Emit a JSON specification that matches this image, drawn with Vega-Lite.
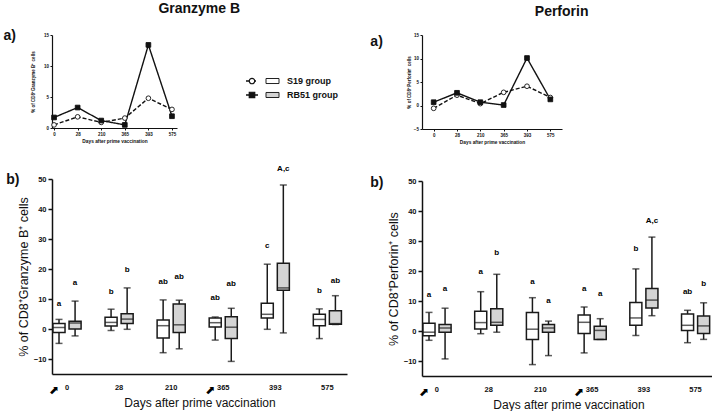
{
  "$schema": "https://vega.github.io/schema/vega-lite/v6.json",
  "padding": {"left": 3, "top": 2, "right": 0, "bottom": 0},
  "config": {
    "font": "Liberation Sans",
    "view": {"stroke": null},
    "axis": {"domainColor": "#111", "tickColor": "#111", "labelColor": "#111", "titleColor": "#111", "grid": false, "labelOverlap": false},
    "title": {"color": "#111"}
  },
  "datasets": {
    "lineGZ": [
      {"day": "0", "group": "S19", "v": 0.5}, {"day": "28", "group": "S19", "v": 1.8}, {"day": "210", "group": "S19", "v": 0.9},
      {"day": "365", "group": "S19", "v": 1.6}, {"day": "393", "group": "S19", "v": 4.8}, {"day": "575", "group": "S19", "v": 3.0},
      {"day": "0", "group": "RB51", "v": 1.7}, {"day": "28", "group": "RB51", "v": 3.3}, {"day": "210", "group": "RB51", "v": 1.2},
      {"day": "365", "group": "RB51", "v": 0.5}, {"day": "393", "group": "RB51", "v": 13.4}, {"day": "575", "group": "RB51", "v": 1.9}
    ],
    "linePF": [
      {"day": "0", "group": "S19", "v": -0.6}, {"day": "28", "group": "S19", "v": 2.2}, {"day": "210", "group": "S19", "v": 0.4},
      {"day": "365", "group": "S19", "v": 2.8}, {"day": "393", "group": "S19", "v": 4.1}, {"day": "575", "group": "S19", "v": 1.7},
      {"day": "0", "group": "RB51", "v": 0.7}, {"day": "28", "group": "RB51", "v": 2.7}, {"day": "210", "group": "RB51", "v": 0.7},
      {"day": "365", "group": "RB51", "v": 0.1}, {"day": "393", "group": "RB51", "v": 10.1}, {"day": "575", "group": "RB51", "v": 1.3}
    ],
    "boxGZ": [
      {"day": "0", "group": "S19", "lo": -4.8, "q1": -1.2, "med": 0.5, "q3": 1.8, "hi": 3.2, "sig": "a", "sig_at": 8.4},
      {"day": "0", "group": "RB51", "lo": -2.3, "q1": 0.0, "med": 2.0, "q3": 2.6, "hi": 9.3, "sig": "a", "sig_at": 15.4},
      {"day": "28", "group": "S19", "lo": -0.5, "q1": 1.0, "med": 2.2, "q3": 3.9, "hi": 6.6, "sig": "b", "sig_at": 12.2},
      {"day": "28", "group": "RB51", "lo": -0.1, "q1": 1.8, "med": 3.3, "q3": 5.1, "hi": 13.7, "sig": "b", "sig_at": 19.8},
      {"day": "210", "group": "S19", "lo": -7.9, "q1": -3.0, "med": 1.1, "q3": 3.0, "hi": 9.7, "sig": "ab", "sig_at": 15.7},
      {"day": "210", "group": "RB51", "lo": -6.6, "q1": -1.2, "med": 1.4, "q3": 8.3, "hi": 9.6, "sig": "ab", "sig_at": 17.3},
      {"day": "365", "group": "S19", "lo": -3.7, "q1": 0.7, "med": 2.1, "q3": 3.7, "hi": 4.0, "sig": "ab", "sig_at": 10.4},
      {"day": "365", "group": "RB51", "lo": -10.8, "q1": -3.2, "med": 0.6, "q3": 4.1, "hi": 6.9, "sig": "ab", "sig_at": 15.0},
      {"day": "393", "group": "S19", "lo": -0.1, "q1": 3.7, "med": 4.9, "q3": 8.6, "hi": 21.6, "sig": "c", "sig_at": 27.6},
      {"day": "393", "group": "RB51", "lo": -1.3, "q1": 12.9, "med": 13.7, "q3": 21.9, "hi": 48.0, "sig": "A,c", "sig_at": 53.4},
      {"day": "575", "group": "S19", "lo": -3.2, "q1": 1.1, "med": 3.2, "q3": 4.9, "hi": 6.7, "sig": "b", "sig_at": 12.8},
      {"day": "575", "group": "RB51", "lo": 1.5, "q1": 1.6, "med": 1.8, "q3": 6.1, "hi": 11.1, "sig": "ab", "sig_at": 16.1}
    ],
    "boxPF": [
      {"day": "0", "group": "S19", "lo": -3.1, "q1": -1.6, "med": -0.4, "q3": 2.6, "hi": 6.2, "sig": "a", "sig_at": 12.0},
      {"day": "0", "group": "RB51", "lo": -9.3, "q1": -0.4, "med": 1.0, "q3": 2.2, "hi": 7.6, "sig": "a", "sig_at": 14.0},
      {"day": "28", "group": "S19", "lo": -0.9, "q1": 0.7, "med": 2.8, "q3": 6.6, "hi": 13.1, "sig": "a", "sig_at": 19.6},
      {"day": "28", "group": "RB51", "lo": -0.4, "q1": 1.9, "med": 2.9, "q3": 7.4, "hi": 18.9, "sig": "b", "sig_at": 25.9},
      {"day": "210", "group": "S19", "lo": -11.2, "q1": -2.8, "med": 0.6, "q3": 6.2, "hi": 11.1, "sig": "a", "sig_at": 16.3},
      {"day": "210", "group": "RB51", "lo": -8.2, "q1": -0.4, "med": 1.0, "q3": 2.2, "hi": 3.3, "sig": "a", "sig_at": 10.1},
      {"day": "365", "group": "S19", "lo": -7.3, "q1": -0.8, "med": 2.9, "q3": 5.3, "hi": 8.0, "sig": "a", "sig_at": 13.9},
      {"day": "365", "group": "RB51", "lo": -2.8, "q1": -2.8, "med": 0.2, "q3": 1.6, "hi": 4.1, "sig": "a", "sig_at": 12.4},
      {"day": "393", "group": "S19", "lo": -1.5, "q1": 1.9, "med": 4.35, "q3": 9.5, "hi": 20.7, "sig": "b", "sig_at": 27.2},
      {"day": "393", "group": "RB51", "lo": 5.1, "q1": 7.7, "med": 10.3, "q3": 14.2, "hi": 31.3, "sig": "A,c", "sig_at": 36.7},
      {"day": "575", "group": "S19", "lo": -3.9, "q1": 0.2, "med": 1.9, "q3": 5.7, "hi": 6.9, "sig": "ab", "sig_at": 13.0},
      {"day": "575", "group": "RB51", "lo": -2.8, "q1": -0.8, "med": 1.7, "q3": 5.0, "hi": 9.4, "sig": "b", "sig_at": 15.7}
    ],
    "legend": [{"group": "S19", "label": "S19 group"}, {"group": "RB51", "label": "RB51 group"}],
    "boost": [{"day": "0"}, {"day": "365"}]
  },
  "spacing": 23,
  "hconcat": [
    {
      "title": {"text": "Granzyme B", "fontSize": 14, "fontWeight": "bold", "anchor": "middle", "dx": 24, "offset": 13},
      "spacing": 21,
      "vconcat": [
        {
          "spacing": 69,
          "bounds": "flush",
          "hconcat": [
            {
              "width": 125, "height": 93,
              "title": {"text": "a)", "anchor": "start", "fontSize": 14, "fontWeight": "bold", "dx": -27, "dy": 11, "offset": 0},
              "data": {"name": "lineGZ"},
              "encoding": {
                "x": {"field": "day", "type": "ordinal", "scale": {"type": "point", "domain": ["0", "28", "210", "365", "393", "575"], "padding": 0.15, "align": 0.29},
                  "axis": {"title": "Days after prime vaccination", "labelAngle": 0, "labelFontSize": 4.5, "labelFontWeight": "bold", "titleFontSize": 4.8, "titleFontWeight": "bold", "tickSize": 2, "labelPadding": 1.5, "titlePadding": 2, "domainWidth": 1.2, "labelOverlap": false}},
                "y": {"field": "v", "type": "quantitative", "scale": {"domain": [0, 15], "nice": false},
                  "axis": {"values": [0, 5, 10, 15], "title": "% of CD8⁺Granzyme B⁺ cells", "labelFontSize": 4.5, "labelFontWeight": "bold", "titleFontSize": 4.5, "titleFontWeight": "bold", "tickSize": 2, "labelPadding": 1.5, "titlePadding": 8, "domainWidth": 1.2, "labelOverlap": false}}
              },
              "layer": [
                {"mark": {"type": "line", "stroke": "#111", "strokeWidth": 1.4},
                 "encoding": {"strokeDash": {"field": "group", "type": "nominal", "scale": {"domain": ["S19", "RB51"], "range": [[4, 2], [1, 0]]}, "legend": null}}},
                {"mark": {"type": "point", "filled": true, "stroke": "#111", "strokeWidth": 0.9, "size": 22, "opacity": 1},
                 "encoding": {
                   "shape": {"field": "group", "type": "nominal", "scale": {"domain": ["S19", "RB51"], "range": ["circle", "square"]}, "legend": null},
                   "color": {"field": "group", "type": "nominal", "scale": {"domain": ["S19", "RB51"], "range": ["#ffffff", "#111111"]}, "legend": null}}}
              ]
            },
            {
              "width": 87, "height": 93,
              "data": {"name": "legend"},
              "encoding": {
                "y": {"field": "group", "type": "nominal", "scale": {"domain": ["S19", "RB51"], "range": [43.5, 62.5], "paddingInner": 0.64, "paddingOuter": 0}, "axis": null}
              },
              "layer": [
                {"mark": {"type": "rule", "stroke": "#111", "strokeWidth": 1.4},
                 "encoding": {
                   "x": {"datum": 0, "type": "quantitative", "scale": {"domain": [0, 87], "nice": false}, "axis": null},
                   "x2": {"datum": 12},
                   "strokeDash": {"field": "group", "type": "nominal", "scale": {"domain": ["S19", "RB51"], "range": [[4, 2], [1, 0]]}, "legend": null}}},
                {"mark": {"type": "point", "filled": true, "stroke": "#111", "strokeWidth": 1.2, "size": 30, "opacity": 1},
                 "encoding": {
                   "x": {"datum": 6, "type": "quantitative"},
                   "shape": {"field": "group", "type": "nominal", "scale": {"domain": ["S19", "RB51"], "range": ["circle", "square"]}, "legend": null},
                   "color": {"field": "group", "type": "nominal", "scale": {"domain": ["S19", "RB51"], "range": ["#ffffff", "#111111"]}, "legend": null}}},
                {"mark": {"type": "bar", "stroke": "#222", "strokeWidth": 1},
                 "encoding": {
                   "x": {"datum": 20, "type": "quantitative"},
                   "x2": {"datum": 33},
                   "fill": {"field": "group", "type": "nominal", "scale": {"domain": ["S19", "RB51"], "range": ["#ffffff", "#d4d4d4"]}, "legend": null}}},
                {"mark": {"type": "text", "align": "left", "baseline": "middle", "fontSize": 9, "fontWeight": "bold", "color": "#111"},
                 "encoding": {"x": {"datum": 41, "type": "quantitative"}, "text": {"field": "label"}}}
              ]
            }
          ]
        },
        {
          "width": 295, "height": 195,
          "title": {"text": "b)", "anchor": "start", "fontSize": 14, "fontWeight": "bold", "dx": -11, "dy": 22, "offset": 0},
          "encoding": {
            "x": {"field": "day", "type": "ordinal", "scale": {"domain": ["0", "28", "210", "365", "393", "575"], "paddingInner": 0.46, "paddingOuter": 0.063, "align": 0.15},
              "axis": {"title": "Days after prime vaccination", "labelAngle": 0, "ticks": false, "labelPadding": 9, "labelFontSize": 7.5, "labelFontWeight": "bold", "titleFontSize": 12, "titleFontWeight": "normal", "titlePadding": 7, "domainWidth": 1.5}}
          },
          "layer": [
            {
              "data": {"name": "boxGZ"},
              "encoding": {
                "xOffset": {"field": "group", "type": "nominal", "scale": {"domain": ["S19", "RB51"], "paddingInner": 0.25, "paddingOuter": 0}},
                "y": {"field": "lo", "type": "quantitative", "scale": {"domain": [-15, 50], "nice": false},
                  "axis": {"values": [-10, 0, 10, 20, 30, 40, 50], "title": "% of CD8⁺Granzyme B⁺ cells", "labelFontSize": 7.5, "labelFontWeight": "bold", "titleFontSize": 12.5, "titleFontWeight": "normal", "tickSize": 4, "tickWidth": 1.5, "labelPadding": 2, "titlePadding": 3, "domainWidth": 1.5, "labelOverlap": false}}
              },
              "layer": [
                {"mark": {"type": "rule", "stroke": "#1a1a1a", "strokeWidth": 1.5},
                 "encoding": {"y2": {"field": "hi"}}},
                {"mark": {"type": "bar", "stroke": "#1a1a1a", "strokeWidth": 1.5},
                 "encoding": {
                   "y": {"field": "q1", "type": "quantitative", "axis": {"values": [-10, 0, 10, 20, 30, 40, 50], "title": "% of CD8⁺Granzyme B⁺ cells", "labelFontSize": 7.5, "labelFontWeight": "bold", "titleFontSize": 12.5, "titleFontWeight": "normal", "tickSize": 4, "tickWidth": 1.5, "labelPadding": 2, "titlePadding": 3, "domainWidth": 1.5, "labelOverlap": false}},
                   "y2": {"field": "q3"},
                   "fill": {"field": "group", "type": "nominal", "scale": {"domain": ["S19", "RB51"], "range": ["#ffffff", "#d4d4d4"]}, "legend": null}}},
                {"mark": {"type": "tick", "color": "#1a1a1a", "size": 12, "thickness": 1.5},
                 "encoding": {"y": {"field": "med", "type": "quantitative", "axis": {"values": [-10, 0, 10, 20, 30, 40, 50], "title": "% of CD8⁺Granzyme B⁺ cells", "labelFontSize": 7.5, "labelFontWeight": "bold", "titleFontSize": 12.5, "titleFontWeight": "normal", "tickSize": 4, "tickWidth": 1.5, "labelPadding": 2, "titlePadding": 3, "domainWidth": 1.5, "labelOverlap": false}}}},
                {"mark": {"type": "tick", "color": "#1a1a1a", "size": 7, "thickness": 1.5}},
                {"mark": {"type": "tick", "color": "#1a1a1a", "size": 7, "thickness": 1.5},
                 "encoding": {"y": {"field": "hi", "type": "quantitative", "axis": {"values": [-10, 0, 10, 20, 30, 40, 50], "title": "% of CD8⁺Granzyme B⁺ cells", "labelFontSize": 7.5, "labelFontWeight": "bold", "titleFontSize": 12.5, "titleFontWeight": "normal", "tickSize": 4, "tickWidth": 1.5, "labelPadding": 2, "titlePadding": 3, "domainWidth": 1.5, "labelOverlap": false}}}},
                {"mark": {"type": "text", "fontSize": 8, "fontWeight": "bold", "baseline": "middle", "color": "#000"},
                 "encoding": {"y": {"field": "sig_at", "type": "quantitative", "axis": {"values": [-10, 0, 10, 20, 30, 40, 50], "title": "% of CD8⁺Granzyme B⁺ cells", "labelFontSize": 7.5, "labelFontWeight": "bold", "titleFontSize": 12.5, "titleFontWeight": "normal", "tickSize": 4, "tickWidth": 1.5, "labelPadding": 2, "titlePadding": 3, "domainWidth": 1.5, "labelOverlap": false}}, "text": {"field": "sig"}}}
              ]
            },
            {
              "data": {"name": "boost"},
              "mark": {"type": "text", "text": "⬈", "font": "DejaVu Sans", "fontSize": 12, "dx": -13, "dy": 16, "color": "#000"},
              "encoding": {"y": {"datum": -15, "type": "quantitative", "axis": {"values": [-10, 0, 10, 20, 30, 40, 50], "title": "% of CD8⁺Granzyme B⁺ cells", "labelFontSize": 7.5, "labelFontWeight": "bold", "titleFontSize": 12.5, "titleFontWeight": "normal", "tickSize": 4, "tickWidth": 1.5, "labelPadding": 2, "titlePadding": 3, "domainWidth": 1.5, "labelOverlap": false}}}
            }
          ]
        }
      ]
    },
    {
      "title": {"text": "Perforin", "fontSize": 14, "fontWeight": "bold", "anchor": "middle", "dx": 19, "offset": 13},
      "spacing": 52,
      "bounds": "flush",
      "vconcat": [
        {
          "width": 140, "height": 94,
          "title": {"text": "a)", "anchor": "start", "fontSize": 14, "fontWeight": "bold", "dx": -36, "dy": 17, "offset": 0},
          "data": {"name": "linePF"},
          "encoding": {
            "x": {"field": "day", "type": "ordinal", "scale": {"type": "point", "domain": ["0", "28", "210", "365", "393", "575"], "padding": 0.5},
              "axis": {"title": "Days after prime vaccination", "labelAngle": 0, "labelFontSize": 4.5, "labelFontWeight": "bold", "titleFontSize": 4.8, "titleFontWeight": "bold", "tickSize": 2, "labelPadding": 1.5, "titlePadding": 2, "domainWidth": 1.2, "labelOverlap": false}},
            "y": {"field": "v", "type": "quantitative", "scale": {"domain": [-5, 15], "nice": false},
              "axis": {"values": [-5, 0, 5, 10, 15], "title": "% of CD8⁺Perforin⁺ cells", "labelFontSize": 4.5, "labelFontWeight": "bold", "titleFontSize": 4.5, "titleFontWeight": "bold", "tickSize": 2, "labelPadding": 1.5, "titlePadding": 2, "domainWidth": 1.2, "labelOverlap": false}}
          },
          "layer": [
            {"mark": {"type": "line", "stroke": "#111", "strokeWidth": 1.4},
             "encoding": {"strokeDash": {"field": "group", "type": "nominal", "scale": {"domain": ["S19", "RB51"], "range": [[4, 2], [1, 0]]}, "legend": null}}},
            {"mark": {"type": "point", "filled": true, "stroke": "#111", "strokeWidth": 0.9, "size": 22, "opacity": 1},
             "encoding": {
               "shape": {"field": "group", "type": "nominal", "scale": {"domain": ["S19", "RB51"], "range": ["circle", "square"]}, "legend": null},
               "color": {"field": "group", "type": "nominal", "scale": {"domain": ["S19", "RB51"], "range": ["#ffffff", "#111111"]}, "legend": null}}}
          ]
        },
        {
          "width": 293, "height": 195,
          "title": {"text": "b)", "anchor": "start", "fontSize": 14, "fontWeight": "bold", "dx": -17, "dy": 13, "offset": 0},
          "encoding": {
            "x": {"field": "day", "type": "ordinal", "scale": {"domain": ["0", "28", "210", "365", "393", "575"], "paddingInner": 0.46, "paddingOuter": 0.063, "align": 0.15},
              "axis": {"title": "Days after prime vaccination", "labelAngle": 0, "ticks": false, "labelPadding": 9, "labelFontSize": 7.5, "labelFontWeight": "bold", "titleFontSize": 12, "titleFontWeight": "normal", "titlePadding": 7, "domainWidth": 1.5}}
          },
          "layer": [
            {
              "data": {"name": "boxPF"},
              "encoding": {
                "xOffset": {"field": "group", "type": "nominal", "scale": {"domain": ["S19", "RB51"], "paddingInner": 0.25, "paddingOuter": 0}},
                "y": {"field": "lo", "type": "quantitative", "scale": {"domain": [-15, 50], "nice": false},
                  "axis": {"values": [-10, 0, 10, 20, 30, 40, 50], "title": "% of CD8⁺Perforin⁺ cells", "labelFontSize": 7.5, "labelFontWeight": "bold", "titleFontSize": 12.5, "titleFontWeight": "normal", "tickSize": 4, "tickWidth": 1.5, "labelPadding": 2, "titlePadding": 3, "domainWidth": 1.5, "labelOverlap": false}}
              },
              "layer": [
                {"mark": {"type": "rule", "stroke": "#1a1a1a", "strokeWidth": 1.5},
                 "encoding": {"y2": {"field": "hi"}}},
                {"mark": {"type": "bar", "stroke": "#1a1a1a", "strokeWidth": 1.5},
                 "encoding": {
                   "y": {"field": "q1", "type": "quantitative", "axis": {"values": [-10, 0, 10, 20, 30, 40, 50], "title": "% of CD8⁺Perforin⁺ cells", "labelFontSize": 7.5, "labelFontWeight": "bold", "titleFontSize": 12.5, "titleFontWeight": "normal", "tickSize": 4, "tickWidth": 1.5, "labelPadding": 2, "titlePadding": 3, "domainWidth": 1.5, "labelOverlap": false}},
                   "y2": {"field": "q3"},
                   "fill": {"field": "group", "type": "nominal", "scale": {"domain": ["S19", "RB51"], "range": ["#ffffff", "#d4d4d4"]}, "legend": null}}},
                {"mark": {"type": "tick", "color": "#1a1a1a", "size": 12, "thickness": 1.5},
                 "encoding": {"y": {"field": "med", "type": "quantitative", "axis": {"values": [-10, 0, 10, 20, 30, 40, 50], "title": "% of CD8⁺Perforin⁺ cells", "labelFontSize": 7.5, "labelFontWeight": "bold", "titleFontSize": 12.5, "titleFontWeight": "normal", "tickSize": 4, "tickWidth": 1.5, "labelPadding": 2, "titlePadding": 3, "domainWidth": 1.5, "labelOverlap": false}}}},
                {"mark": {"type": "tick", "color": "#1a1a1a", "size": 7, "thickness": 1.5}},
                {"mark": {"type": "tick", "color": "#1a1a1a", "size": 7, "thickness": 1.5},
                 "encoding": {"y": {"field": "hi", "type": "quantitative", "axis": {"values": [-10, 0, 10, 20, 30, 40, 50], "title": "% of CD8⁺Perforin⁺ cells", "labelFontSize": 7.5, "labelFontWeight": "bold", "titleFontSize": 12.5, "titleFontWeight": "normal", "tickSize": 4, "tickWidth": 1.5, "labelPadding": 2, "titlePadding": 3, "domainWidth": 1.5, "labelOverlap": false}}}},
                {"mark": {"type": "text", "fontSize": 8, "fontWeight": "bold", "baseline": "middle", "color": "#000"},
                 "encoding": {"y": {"field": "sig_at", "type": "quantitative", "axis": {"values": [-10, 0, 10, 20, 30, 40, 50], "title": "% of CD8⁺Perforin⁺ cells", "labelFontSize": 7.5, "labelFontWeight": "bold", "titleFontSize": 12.5, "titleFontWeight": "normal", "tickSize": 4, "tickWidth": 1.5, "labelPadding": 2, "titlePadding": 3, "domainWidth": 1.5, "labelOverlap": false}}, "text": {"field": "sig"}}}
              ]
            },
            {
              "data": {"name": "boost"},
              "mark": {"type": "text", "text": "⬈", "font": "DejaVu Sans", "fontSize": 12, "dx": -13, "dy": 16, "color": "#000"},
              "encoding": {"y": {"datum": -15, "type": "quantitative", "axis": {"values": [-10, 0, 10, 20, 30, 40, 50], "title": "% of CD8⁺Perforin⁺ cells", "labelFontSize": 7.5, "labelFontWeight": "bold", "titleFontSize": 12.5, "titleFontWeight": "normal", "tickSize": 4, "tickWidth": 1.5, "labelPadding": 2, "titlePadding": 3, "domainWidth": 1.5, "labelOverlap": false}}}
            }
          ]
        }
      ]
    }
  ]
}
